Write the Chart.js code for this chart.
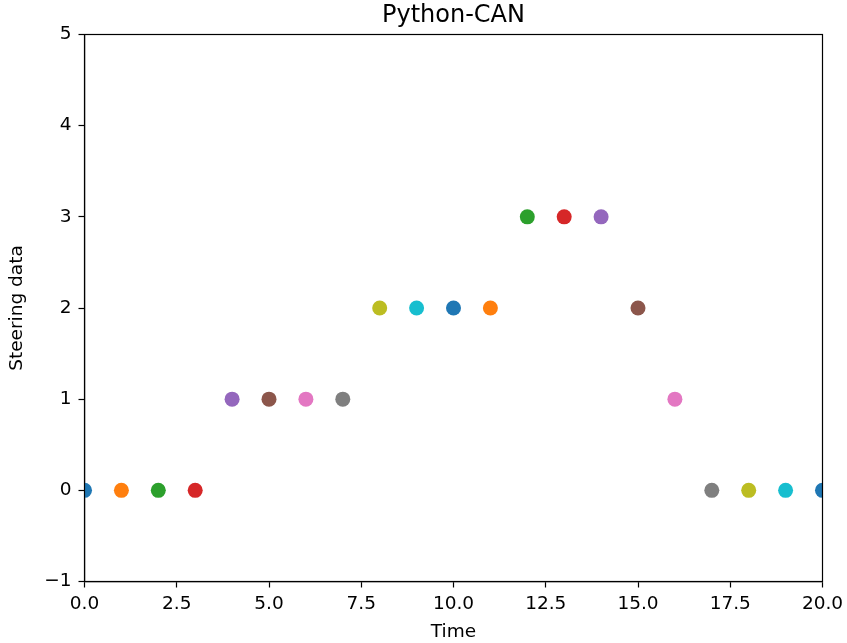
<!DOCTYPE html>
<html>
<head>
<meta charset="utf-8">
<script src="https://cdn.jsdelivr.net/npm/chart.js@4"></script>
<style>
  html, body { margin: 0; padding: 0; background: #fff; }
  #wrap { width: 847px; height: 643px; }
</style>
</head>
<body>
<div id="wrap"><canvas id="canvas" width="847" height="643"></canvas></div>
<script>
'use strict';

const timeValues = [0, 1, 2, 3, 4, 5, 6, 7, 8, 9, 10, 11, 12, 13, 14, 15, 16, 17, 18, 19, 20];
const steeringValues = [0, 0, 0, 0, 1, 1, 1, 1, 2, 2, 2, 2, 3, 3, 3, 2, 1, 0, 0, 0, 0];
const xTicks = [0, 2.5, 5, 7.5, 10, 12.5, 15, 17.5, 20];
const yTicks = [-1, 0, 1, 2, 3, 4, 5];

// matplotlib default colour cycle, one colour per point
const palette = ['#1f77b4', '#ff7f0e', '#2ca02c', '#d62728', '#9467bd',
                 '#8c564b', '#e377c2', '#7f7f7f', '#bcbd22', '#17becf'];

const FONT = "'DejaVu Sans', sans-serif";

// draws the top and right spines so the plot is boxed in
const frame = {
    id: 'frame',
    afterDatasetsDraw(chart) {
        const a = chart.chartArea;
        const ctx = chart.ctx;
        ctx.save();
        ctx.strokeStyle = '#000';
        ctx.lineWidth = 1.2;
        ctx.strokeRect(a.left, a.top, a.right - a.left, a.bottom - a.top);
        ctx.restore();
    }
};

const ctx = document.getElementById('canvas').getContext('2d');

new Chart(ctx, {
    type: 'scatter',
    data: {
        datasets: [{
            label: 'Steering',
            data: timeValues.map((t, i) => ({ x: t, y: steeringValues[i] })),
            pointBackgroundColor: timeValues.map((t, i) => palette[i % palette.length]),
            pointBorderWidth: 0,
            pointRadius: 7.5,
            pointHoverRadius: 7.5,
            clip: 0
        }]
    },
    plugins: [frame],
    options: {
        responsive: false,
        animation: false,
        events: [],
        layout: { padding: { left: 0, right: 24.5, top: 0, bottom: 0 } },
        plugins: {
            legend: { display: false },
            tooltip: { enabled: false },
            title: {
                display: true,
                fullSize: false,
                text: 'Python-CAN',
                color: '#000',
                font: { family: FONT, size: 24, weight: 'normal', lineHeight: 1.2 },
                padding: { top: 1, bottom: 4.7 }
            }
        },
        scales: {
            x: {
                type: 'linear',
                min: 0,
                max: 20,
                afterFit: s => {
                    s.height = 61.5;
                    s.paddingLeft = 0;
                    s.paddingRight = 0;
                },
                afterBuildTicks: s => { s.ticks = xTicks.map(v => ({ value: v })); },
                ticks: {
                    color: '#000',
                    font: { family: FONT, size: 18.5 },
                    padding: 6,
                    maxRotation: 0,
                    callback: v => v.toFixed(1)
                },
                grid: { drawOnChartArea: false, tickLength: 6, tickColor: '#000', tickWidth: 1.2 },
                border: { display: true, color: '#000', width: 1.2 },
                title: {
                    display: true,
                    text: 'Time',
                    color: '#000',
                    font: { family: FONT, size: 18.5, lineHeight: 1.2 },
                    padding: { top: 0, bottom: 0 }
                }
            },
            y: {
                type: 'linear',
                min: -1,
                max: 5,
                afterFit: s => { s.width = 84.5; },
                afterBuildTicks: s => { s.ticks = yTicks.map(v => ({ value: v })); },
                ticks: {
                    color: '#000',
                    font: { family: FONT, size: 18.5 },
                    padding: 7,
                    callback: v => String(v).replace('-', '\u2212')
                },
                grid: { drawOnChartArea: false, tickLength: 6, tickColor: '#000', tickWidth: 1.2 },
                border: { display: true, color: '#000', width: 1.2 },
                title: {
                    display: true,
                    text: 'Steering data',
                    color: '#000',
                    font: { family: FONT, size: 18.5, lineHeight: 1.2 },
                    padding: { top: 6.5, bottom: 0 }
                }
            }
        }
    }
});
</script>
</body>
</html>
